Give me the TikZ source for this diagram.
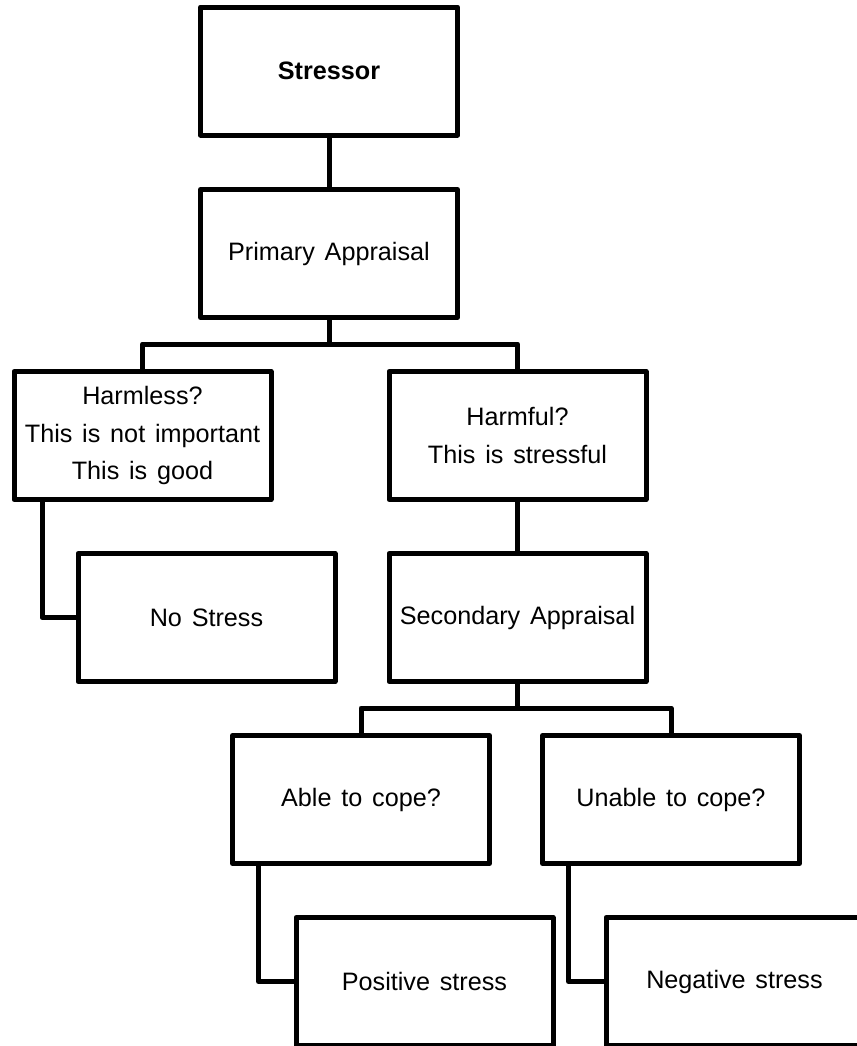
\documentclass[tikz,border=0pt]{standalone}
\usepackage{fontspec}
\setmainfont[WordSpace=1.4]{Liberation Sans}
\tikzset{stage/.style={draw=black, line width=2.5pt, line join=round, minimum width=128.5pt, minimum height=64pt, inner sep=0pt, outer sep=0pt, align=center, font=\fontsize{12.6}{18.75}\selectfont}}
\tikzset{link/.style={line width=2.5pt, line join=round}}

\begin{document}
\begin{tikzpicture}[x=0.5pt,y=-0.5pt]
	\useasboundingbox (0,0) rectangle (857,1046);
	\clip (0,0) rectangle (857,1046);
	\node[stage] (stressor) at (329,71) {\textbf{Stressor}};
	\node[stage] (primary) at (329,253.5) {Primary Appraisal};
	\node[stage] (harmless) at (142.5,435.5) {Harmless?\\This is not important\\This is good};
	\node[stage] (harmful) at (517.5,435.5) {Harmful?\\This is stressful};
	\node[stage] (nostress) at (206.5,617.5) {No Stress};
	\node[stage] (secondary) at (517.5,617.5) {Secondary Appraisal};
	\node[stage] (able) at (361,799.5) {Able to cope?};
	\node[stage] (unable) at (671,799.5) {Unable to cope?};
	\node[stage] (positive) at (424.5,981.5) {Positive stress};
	\node[stage] (negative) at (734.5,981.5) {Negative stress};
	\coordinate (bus1) at (329,344);
	\coordinate (bus2) at (517.5,708);
	\draw[link] (stressor) -- (primary);
	\draw[link] (primary) -- (bus1);
	\draw[link] (harmless.north) |- (bus1) -| (harmful.north);
	\draw[link] (harmful) -- (secondary);
	\draw[link] ([xshift=14pt]harmless.south west) |- (nostress.west);
	\draw[link] (secondary) -- (bus2);
	\draw[link] (able.north) |- (bus2) -| (unable.north);
	\draw[link] ([xshift=13pt]able.south west) |- (positive.west);
	\draw[link] ([xshift=13pt]unable.south west) |- (negative.west);
\end{tikzpicture}
\end{document}
